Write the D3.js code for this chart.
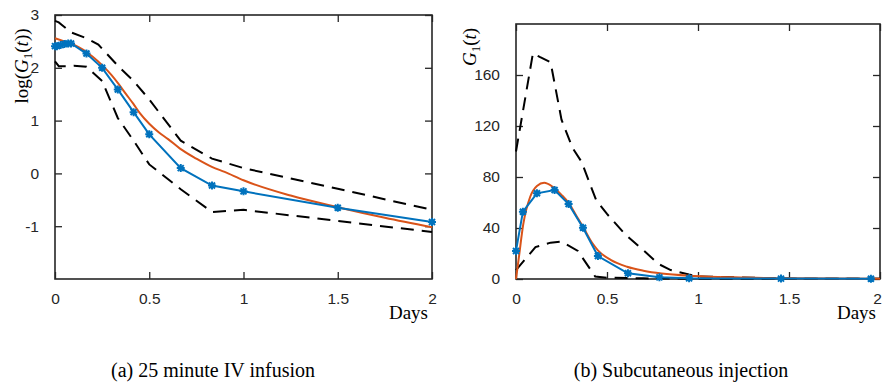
<!DOCTYPE html>
<html>
<head>
<meta charset="utf-8">
<script src="https://cdn.jsdelivr.net/npm/d3@7.9.0/dist/d3.min.js"></script>
<style>
  body { margin: 0; background: #fff; }
  svg { display: block; }
  .tick-label { font-family: "Liberation Sans", Arial, sans-serif; font-size: 15.5px; fill: #262626; }
  .serif { font-family: "Liberation Serif", "Times New Roman", serif; fill: #000; }
</style>
</head>
<body>
<div id="chart"></div>
<script>
// ---- data: (a) 25 minute IV infusion, log scale ----
const ivDataT = [0, 0.01, 0.03, 0.05, 0.07, 0.085, 0.167, 0.25, 0.333, 0.417, 0.5, 0.667, 0.833, 1, 1.5, 2];
const ivDataV = [2.41, 2.41, 2.43, 2.45, 2.46, 2.46, 2.27, 2.00, 1.59, 1.16, 0.74, 0.10, -0.23, -0.34, -0.65, -0.92];
const ivModelT = [0, 0.05, 0.085, 0.125, 0.167, 0.2, 0.25, 0.3, 0.336, 0.375, 0.415, 0.45, 0.5, 0.55, 0.6, 0.663, 0.75, 0.835, 0.9, 1, 1.25, 1.5, 1.75, 2];
const ivModelV = [2.56, 2.50, 2.46, 2.39, 2.30, 2.21, 2.05, 1.86, 1.70, 1.51, 1.32, 1.14, 0.94, 0.78, 0.65, 0.47, 0.28, 0.12, 0.03, -0.13, -0.42, -0.64, -0.84, -1.02];
const ivUpperT = [0, 0.02, 0.04, 0.085, 0.167, 0.23, 0.333, 0.417, 0.5, 0.667, 0.833, 1, 1.5, 2];
const ivUpperV = [2.89, 2.86, 2.80, 2.67, 2.56, 2.44, 2.04, 1.75, 1.40, 0.62, 0.28, 0.10, -0.29, -0.69];
const ivLowerT = [0, 0.02, 0.06, 0.1, 0.167, 0.25, 0.333, 0.417, 0.5, 0.667, 0.833, 1, 1.5, 2];
const ivLowerV = [2.12, 2.03, 2.03, 2.04, 2.02, 1.75, 1.05, 0.62, 0.17, -0.30, -0.73, -0.69, -0.90, -1.11];

// ---- data: (b) Subcutaneous injection ----
const scDataT = [0, 0.038, 0.115, 0.212, 0.289, 0.368, 0.45, 0.615, 0.788, 0.951, 1.456, 1.95];
const scDataV = [22, 52.8, 67.2, 69.8, 58.8, 40.2, 18, 4.5, 1.3, 0.5, 0.3, 0.2];
const scModelT = [0, 0.014, 0.04, 0.078, 0.115, 0.155, 0.2, 0.25, 0.29, 0.33, 0.37, 0.42, 0.45, 0.52, 0.61, 0.7, 0.8, 0.98, 1.2, 1.5, 2];
const scModelV = [0, 15, 43, 64.5, 73, 75.5, 72.5, 66, 59.5, 50, 40.5, 28, 22.5, 15, 9.6, 6.5, 4.3, 2.4, 1.3, 0.6, 0.2];
const scUpperT = [0, 0.093, 0.133, 0.19, 0.25, 0.31, 0.36, 0.44, 0.5, 0.6, 0.72, 0.78, 0.85, 0.95, 1, 1.5, 2];
const scUpperV = [100, 177, 174, 170, 125, 103, 92, 62, 51, 35, 20, 12, 7, 3.5, 2, 0.3, 0.1];
const scLowerT = [0, 0.107, 0.19, 0.25, 0.34, 0.435, 0.5, 0.7, 1, 2];
const scLowerV = [7, 25, 28.5, 29.3, 22, 2, 1, 0.5, 0.2, 0.1];

const xTicks = [0, 0.5, 1, 1.5, 2];
const ivYTicks = [-1, 0, 1, 2, 3];
const scYTicks = [0, 40, 80, 120, 160];

const zip = (t, v) => t.map((d, i) => ({t: d, v: v[i]}));
const plainFormat = d => String(d);   // keeps ASCII hyphen like the original

const W = 882, H = 382;
const svg = d3.select("#chart").append("svg")
    .attr("width", W)
    .attr("height", H);

const axisColor = "#262626";
const blue = "#0072BD", orange = "#D95319";

// MATLAB style '*' marker: plus + cross
const starSymbol = {
  draw(ctx, size) {
    const r = Math.sqrt(size) / 2;
    const d = r * 0.75;
    ctx.moveTo(-r, 0); ctx.lineTo(r, 0);
    ctx.moveTo(0, -r); ctx.lineTo(0, r);
    ctx.moveTo(-d, -d); ctx.lineTo(d, d);
    ctx.moveTo(-d, d); ctx.lineTo(d, -d);
  }
};

function drawPanel(opt) {
  const x = d3.scaleLinear().domain([0, 2]).range([opt.left, opt.right]);
  const y = d3.scaleLinear().domain(opt.yDomain).range([opt.bottom, opt.top]);
  const g = svg.append("g");
  const tickLen = 7;

  // box
  g.append("rect")
    .attr("x", opt.left).attr("y", opt.top)
    .attr("width", opt.right - opt.left).attr("height", opt.bottom - opt.top)
    .attr("fill", "none").attr("stroke", axisColor).attr("stroke-width", 1.6);

  // bottom axis with inward ticks
  g.append("g")
    .attr("transform", `translate(0,${opt.bottom})`)
    .call(d3.axisBottom(x).tickValues(xTicks).tickSizeInner(-tickLen).tickSizeOuter(0).tickPadding(14).tickFormat(plainFormat))
    .call(a => a.select(".domain").remove())
    .call(a => a.selectAll("line").attr("stroke", axisColor).attr("stroke-width", 1.3))
    .call(a => a.selectAll("text").attr("class", "tick-label").attr("fill", null))
    .call(a => a.selectAll("text").filter(d => x(d) + 5 > W).attr("dx", W - 5 - x(2)));
  // top ticks
  g.append("g")
    .attr("transform", `translate(0,${opt.top})`)
    .call(d3.axisTop(x).tickValues(xTicks).tickSizeInner(-tickLen).tickSizeOuter(0).tickFormat(""))
    .call(a => a.select(".domain").remove())
    .call(a => a.selectAll("line").attr("stroke", axisColor).attr("stroke-width", 1.3));
  // left axis
  g.append("g")
    .attr("transform", `translate(${opt.left},0)`)
    .call(d3.axisLeft(y).tickValues(opt.yTicks).tickSizeInner(-tickLen).tickSizeOuter(0).tickPadding(16).tickFormat(plainFormat))
    .call(a => a.select(".domain").remove())
    .call(a => a.selectAll("line").attr("stroke", axisColor).attr("stroke-width", 1.3))
    .call(a => a.selectAll("text").attr("class", "tick-label").attr("fill", null));
  // right ticks
  g.append("g")
    .attr("transform", `translate(${opt.right},0)`)
    .call(d3.axisRight(y).tickValues(opt.yTicks).tickSizeInner(-tickLen).tickSizeOuter(0).tickFormat(""))
    .call(a => a.select(".domain").remove())
    .call(a => a.selectAll("line").attr("stroke", axisColor).attr("stroke-width", 1.3));

  const straight = d3.line().x(d => x(d.t)).y(d => y(d.v));
  const smooth = d3.line().x(d => x(d.t)).y(d => y(d.v)).curve(d3.curveMonotoneX);

  // confidence bounds
  [opt.upper, opt.lower].forEach(series => {
    g.append("path")
      .datum(series)
      .attr("fill", "none")
      .attr("stroke", "#000")
      .attr("stroke-width", 2)
      .attr("stroke-dasharray", "13,8")
      .attr("d", straight);
  });

  // model curve
  g.append("path")
    .datum(opt.model)
    .attr("fill", "none")
    .attr("stroke", orange)
    .attr("stroke-width", 2)
    .attr("d", smooth);

  // data line + markers
  g.append("path")
    .datum(opt.data)
    .attr("fill", "none")
    .attr("stroke", blue)
    .attr("stroke-width", 2)
    .attr("d", straight);

  g.selectAll(".marker")
    .data(opt.data)
    .join("path")
    .attr("class", "marker")
    .attr("transform", d => `translate(${x(d.t)},${y(d.v)})`)
    .attr("d", d3.symbol().type(starSymbol).size(64))
    .attr("fill", "none")
    .attr("stroke", blue)
    .attr("stroke-width", 2);

  // x label
  g.append("text")
    .attr("class", "serif")
    .attr("x", opt.daysX)
    .attr("y", 319)
    .attr("text-anchor", "end")
    .attr("font-size", 19)
    .text("Days");

  // y label
  const yl = g.append("text")
    .attr("class", "serif")
    .attr("transform", `translate(${opt.ylabelX},${opt.ylabelY}) rotate(-90)`)
    .attr("text-anchor", "middle")
    .attr("font-size", 19);
  opt.ylabel(yl);

  // caption
  g.append("text")
    .attr("class", "serif")
    .attr("x", opt.captionX)
    .attr("y", 377)
    .attr("text-anchor", "middle")
    .attr("font-size", 20)
    .text(opt.caption);
}

function gOfT(t, prefix, suffix) {
  t.append("tspan").text(prefix);
  t.append("tspan").attr("font-style", "italic").text("G");
  t.append("tspan").attr("font-size", 13).attr("dy", 4).text("1");
  t.append("tspan").attr("dy", -4).text("(");
  t.append("tspan").attr("font-style", "italic").text("t");
  t.append("tspan").text(suffix);
}

drawPanel({
  left: 55, right: 432, top: 15, bottom: 279,
  yDomain: [-2, 3], yTicks: ivYTicks,
  data: zip(ivDataT, ivDataV), model: zip(ivModelT, ivModelV),
  upper: zip(ivUpperT, ivUpperV), lower: zip(ivLowerT, ivLowerV),
  daysX: 428, ylabelX: 28, ylabelY: 66,
  ylabel: t => gOfT(t, "log(", "))"),
  captionX: 213, caption: "(a) 25 minute IV infusion"
});

drawPanel({
  left: 516, right: 880, top: 24, bottom: 279,
  yDomain: [0, 200], yTicks: scYTicks,
  data: zip(scDataT, scDataV), model: zip(scModelT, scModelV),
  upper: zip(scUpperT, scUpperV), lower: zip(scLowerT, scLowerV),
  daysX: 876, ylabelX: 476, ylabelY: 47,
  ylabel: t => gOfT(t, "", ")"),
  captionX: 681, caption: "(b) Subcutaneous injection"
});
</script>
</body>
</html>
